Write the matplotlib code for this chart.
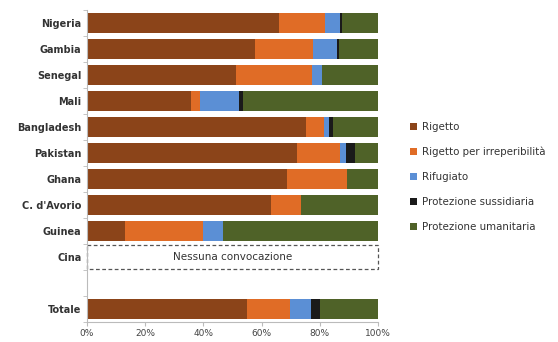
import numpy as np
import matplotlib.pyplot as plt
from matplotlib.patches import Rectangle

countries = ['Nigeria', 'Gambia', 'Senegal', 'Mali', 'Bangladesh', 'Pakistan',
             'Ghana', "C. d'Avorio", 'Guinea', 'Cina', '', 'Totale']
series = ['Rigetto', 'Rigetto per irreperibilità', 'Rifugiato',
          'Protezione sussidiaria', 'Protezione umanitaria']
colors = ['#8B4419', '#E06C26', '#5B8FD5', '#1A1A1A', '#4F6228']

rigetto     = [66.0, 57.8, 51.2, 35.8, 75.4, 72.2, 68.8, 63.2, 13.0, 0, 0, 55.1]
irreperib   = [15.7, 19.7, 26.0,  3.0,  6.2, 14.9, 20.7, 10.5, 26.8, 0, 0, 14.8]
rifugiato   = [ 5.4,  8.5,  3.7, 13.5,  1.6,  2.0,  0.0,  0.0,  6.8, 0, 0,  7.2]
sussidiaria = [ 0.7,  0.6,  0.0,  1.4,  1.3,  2.9,  0.0,  0.0,  0.0, 0, 0,  2.9]
umanitaria  = [12.2, 13.4, 19.1, 46.3, 15.5,  8.0, 10.5, 26.3, 53.4, 0, 0, 20.0]
data = [rigetto, irreperib, rifugiato, sussidiaria, umanitaria]

fig = plt.figure(figsize=(5.58, 3.42), dpi=100)
ax = fig.add_axes([87/558, 20/342, (378-87)/558, (342-20-10)/342])

y = np.arange(len(countries))
left = np.zeros(len(countries))
for vals, name, c in zip(data, series, colors):
    vals = np.array(vals) / 100
    ax.barh(y, vals, left=left, height=0.74, color=c, label=name)
    left += vals

# Cina: no data box
ci = countries.index('Cina')
ax.add_patch(Rectangle((0, ci - 0.47), 1, 0.94, fill=False, ls=(0, (3, 2)),
                       lw=0.9, ec='#555555', clip_on=False))
ax.text(0.5, ci, 'Nessuna convocazione', ha='center', va='center',
        fontsize=7.5, color='#333333')

ax.set_xlim(0, 1)
ax.set_ylim(len(countries) - 0.5, -0.5)
ax.set_yticks(y)
ax.set_yticklabels(countries, fontsize=7, fontweight='bold', color='#333333')
ax.set_yticks(np.arange(-0.5, len(countries)), minor=True)
ax.tick_params(axis='y', which='major', length=0, pad=4)
ax.tick_params(axis='y', which='minor', length=3, color='#bbbbbb')
ax.set_xticks(np.arange(0, 1.01, 0.2))
ax.set_xticklabels(['%d%%' % v for v in range(0, 101, 20)], fontsize=6.5, color='#444444')
ax.tick_params(axis='x', length=3, color='#bbbbbb', pad=2)
for s in ['top', 'right']:
    ax.spines[s].set_visible(False)
for s in ['left', 'bottom']:
    ax.spines[s].set_color('#bbbbbb')
    ax.spines[s].set_linewidth(0.8)

ax.legend(loc='center left', bbox_to_anchor=((401 - 87)/291, 0.465), frameon=False,
          fontsize=7.4, handlelength=0.7, handleheight=0.7, handletextpad=0.4,
          labelspacing=1.45, labelcolor='#333333')

fig.savefig('out.png', dpi=100)
